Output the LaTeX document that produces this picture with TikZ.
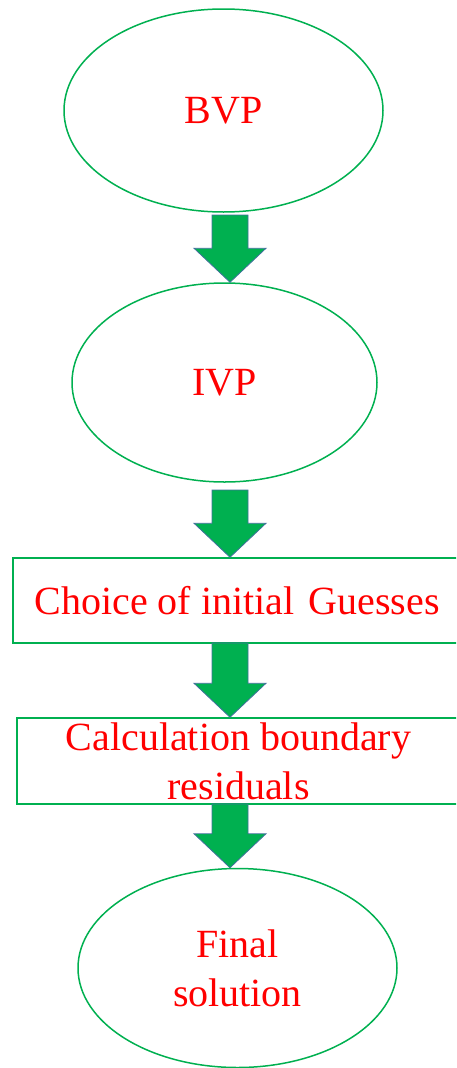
\documentclass[tikz,border=0pt]{standalone}
\usepackage{fontspec}
\setmainfont{Liberation Serif}
\usetikzlibrary{shapes.geometric,calc}
\definecolor{offgreen}{HTML}{00B050}
\definecolor{arrowedge}{HTML}{41719C}
\definecolor{labelred}{HTML}{FF0000}

% Block arrow pointing down from a start coordinate to the top of a node
\newcommand{\downblock}[2]{%
  \path let \p1=(#1), \p2=(#2) in
    [fatarrow] (\x1-18pt,\y1) -- (\x1+18pt,\y1) -- (\x1+18pt,\y2+34pt)
    -- (\x1+36pt,\y2+34pt) -- (\x1,\y2) -- (\x1-36pt,\y2+34pt)
    -- (\x1-18pt,\y2+34pt) -- cycle;}

\begin{document}
\begin{tikzpicture}[x=1pt,y=-1pt,
  labeltext/.style={text=labelred, font=\fontsize{40}{49}\selectfont, align=center, inner sep=0pt},
  oval/.style={ellipse, draw=offgreen, line width=1.5pt, labeltext},
  stagebox/.style={rectangle, draw=offgreen, line width=1.5pt, labeltext},
  fatarrow/.style={fill=offgreen, draw=arrowedge, line width=0.8pt, line join=miter}]
\useasboundingbox (0,0) rectangle (456,1068);
\clip (0,0) rectangle (456,1068);

% Stages
\node[oval, minimum width=319pt, minimum height=203pt] (bvp) at (223.5,110.5) {BVP};
\node[oval, minimum width=305pt, minimum height=199pt] (ivp) at (224.5,382.5) {IVP};
\node[stagebox, minimum width=448pt, minimum height=85pt] (guess) at (237,600.5)
  {Choice of initial\hspace{14pt}Guesses};
\node[stagebox, minimum width=443pt, minimum height=86pt] (resid) at (238.5,761)
  {Calculation boundary\\residuals};
\node[oval, minimum width=319pt, minimum height=199pt] (final) at (237.5,968)
  {Final\\solution};

% Arrow start points
\coordinate (s1) at (230,215);
\coordinate (s2) at (230,490);
\coordinate (s3) at (230,643);
\coordinate (s4) at (230,804);

% Connectors
\downblock{s1}{ivp.north}
\downblock{s2}{guess.north}
\downblock{s3}{resid.north}
\downblock{s4}{final.north}
\end{tikzpicture}
\end{document}
